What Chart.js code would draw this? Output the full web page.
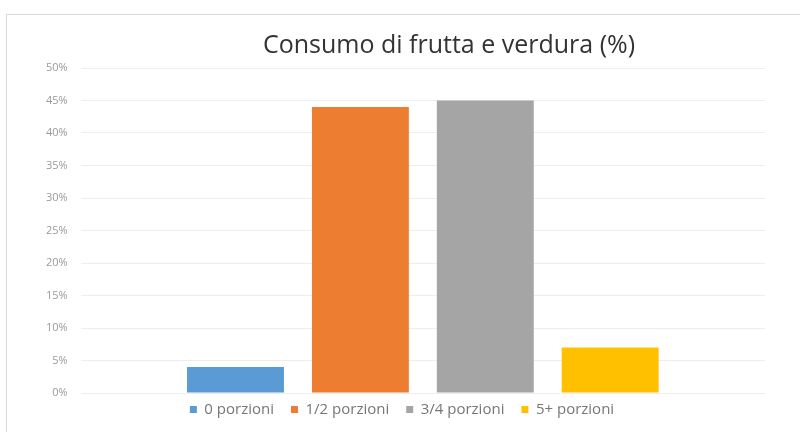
<!doctype html>
<html lang="it">
<head>
<meta charset="utf-8">
<title>Consumo di frutta e verdura</title>
<style>
    * { margin: 0; padding: 0; }
    body { width: 800px; height: 432px; overflow: hidden; background: #fff; }
    .frame {
        position: absolute;
        left: 6px; top: 14px;
        width: 800px; height: 430px;
        border: 1px solid #d9d9d9;
        box-sizing: border-box;
    }
    .box {
        position: absolute;
        left: 7px; top: 15px;
        width: 793px; height: 420px;
    }
</style>
</head>
<body>
<div class="frame"></div>
<div class="box"><canvas id="myChart"></canvas></div>
<script src="https://cdn.jsdelivr.net/npm/chart.js/dist/chart.umd.min.js"></script>
<script>
    // data
    const categories = [''];
    const seriesNames = ['0 porzioni', '1/2 porzioni', '3/4 porzioni', '5+ porzioni'];
    const seriesValues = [4, 44, 45, 7];
    const seriesColors = ['#5B9BD5', '#ED7D31', '#A5A5A5', '#FFC000'];
    const yTicks = [0, 5, 10, 15, 20, 25, 30, 35, 40, 45, 50];

    // the original has the title off-centre and the legend tucked up close to the axis
    const nudge = {
        id: 'nudge',
        afterLayout(chart) {
            const t = chart.titleBlock;
            if (t) { t.left += 50; t.right += 50; }
            const l = chart.legend;
            if (l) { l.top -= 8; l.bottom -= 8; l.left += 3; l.right += 3; }
        }
    };

    const datasets = seriesNames.map((name, i) => ({
        label: name,
        data: [seriesValues[i]],
        backgroundColor: seriesColors[i],
        borderWidth: 0,
        categoryPercentage: 0.73,
        barPercentage: 0.776
    }));

    new Chart(document.getElementById('myChart'), {
        type: 'bar',
        data: { labels: categories, datasets: datasets },
        plugins: [nudge],
        options: {
            responsive: true,
            maintainAspectRatio: false,
            animation: false,
            layout: { padding: { left: 26, right: 35, top: 0, bottom: 0 } },
            plugins: {
                title: {
                    display: true,
                    text: 'Consumo di frutta e verdura (%)',
                    color: '#333333',
                    font: { family: 'Open Sans', size: 25, weight: 'normal' },
                    padding: { top: 16, bottom: 7 }
                },
                legend: {
                    position: 'bottom',
                    labels: {
                        color: '#767676',
                        font: { family: 'Open Sans', size: 15 },
                        boxWidth: 7,
                        boxHeight: 7,
                        padding: 17
                    }
                },
                tooltip: { enabled: false }
            },
            scales: {
                x: { display: false },
                y: {
                    min: 0,
                    max: 50,
                    afterBuildTicks(axis) {
                        axis.ticks = yTicks.map(v => ({ value: v }));
                    },
                    border: { display: false },
                    grid: { color: '#ededed', drawTicks: false },
                    ticks: {
                        color: '#9a9a9a',
                        font: { family: 'Open Sans', size: 11 },
                        padding: 13,
                        callback: v => v + '%'
                    }
                }
            }
        }
    });
</script>
</body>
</html>
